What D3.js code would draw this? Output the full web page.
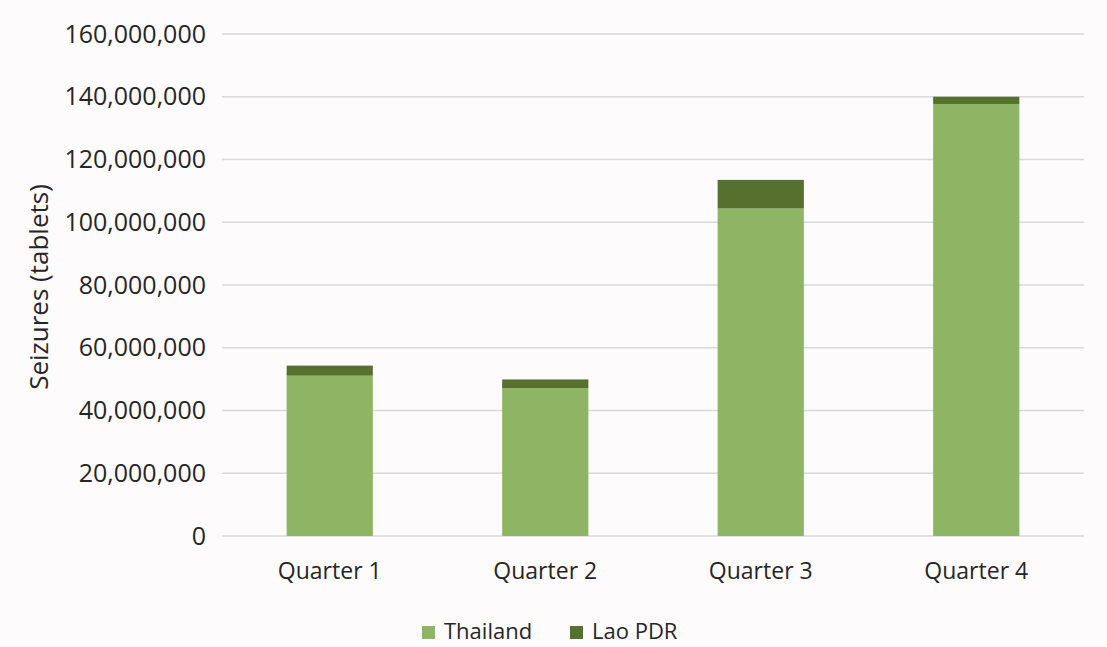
<!DOCTYPE html>
<html><head><meta charset="utf-8">
<script src="https://cdn.jsdelivr.net/npm/d3@7"></script>
<style>body{margin:0;background:#fdfbfc;}svg{display:block;}text{font-family:"Open Sans",sans-serif;fill:#262626;}</style>
</head><body>
<svg id="c" width="1107" height="647"></svg>
<script>
const categories = ["Quarter 1","Quarter 2","Quarter 3","Quarter 4"];
const thailand = [51100000, 47100000, 104400000, 137700000];
const laoPDR = [3200000, 2800000, 9100000, 2300000];
const yTicks = [0,20000000,40000000,60000000,80000000,100000000,120000000,140000000,160000000];
const seriesNames = ["Thailand","Lao PDR"];
const colors = ["#8db563","#56702e"];

const svg = d3.select("#c");
const x = d3.scaleBand().domain(categories).range([222,1084]).paddingInner(0.6).paddingOuter(0.3);
const y = d3.scaleLinear().domain([0,160000000]).range([536,34]);

// gridlines
svg.append("g").selectAll("line").data(yTicks).join("line")
  .attr("x1",222).attr("x2",1084).attr("y1",d=>y(d)).attr("y2",d=>y(d))
  .attr("stroke","#d9d9d9").attr("stroke-width",1.3);

// y axis labels
const yAxis = d3.axisLeft(y).tickValues(yTicks).tickFormat(d3.format(",")).tickSize(0).tickPadding(0);
const ya = svg.append("g").attr("transform","translate(206,0)").call(yAxis);
ya.select(".domain").remove();
ya.selectAll("text").attr("font-size",25).attr("font-family","Open Sans").attr("fill","#262626");

// stacked data
const rows = categories.map((c,i)=>({cat:c, Thailand:thailand[i], "Lao PDR":laoPDR[i]}));
const stack = d3.stack().keys(seriesNames)(rows);
svg.append("g").selectAll("g").data(stack).join("g").attr("fill",(d,i)=>colors[i])
  .selectAll("rect").data(d=>d).join("rect")
  .attr("x",d=>x(d.data.cat)).attr("width",x.bandwidth())
  .attr("y",d=>y(d[1])).attr("height",d=>y(d[0])-y(d[1]));

// x axis labels
const xAxis = d3.axisBottom(x).tickSize(0).tickPadding(0);
const xa = svg.append("g").attr("transform","translate(0,563)").call(xAxis);
xa.select(".domain").remove();
xa.selectAll("text").attr("font-size",23).attr("font-family","Open Sans").attr("fill","#262626");

// y title
svg.append("text").attr("transform","translate(48,287) rotate(-90)").attr("text-anchor","middle")
  .attr("font-size",26).text("Seizures (tablets)");

// legend
const legX = [422,570];
const lg = svg.append("g").selectAll("g").data(seriesNames).join("g")
  .attr("transform",(d,i)=>`translate(${legX[i]},626)`);
lg.append("rect").attr("width",13).attr("height",13).attr("fill",(d,i)=>colors[i]);
lg.append("text").attr("x",22).attr("y",13).attr("font-size",22).text(d=>d);
</script>
</body></html>
